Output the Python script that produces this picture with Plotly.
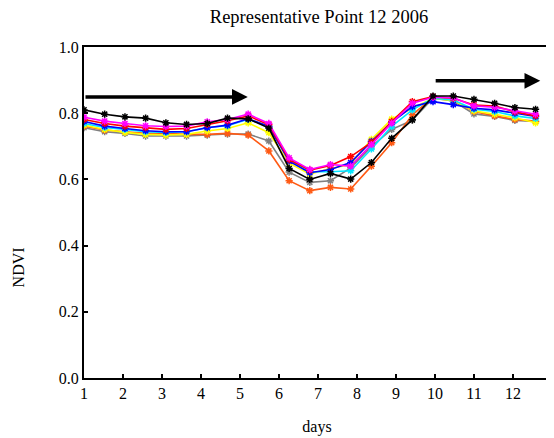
import plotly.graph_objects as go

title_text = "Representative Point 12 2006"
x_label = "days"
y_label = "NDVI"
x_days = [1.00, 1.53, 2.05, 2.58, 3.10, 3.63, 4.16, 4.68, 5.21, 5.74, 6.26, 6.79,
          7.32, 7.84, 8.37, 8.89, 9.42, 9.95, 10.47, 11.00, 11.53, 12.05, 12.58]

gray = [0.756, 0.744, 0.739, 0.731, 0.731, 0.731, 0.734, 0.737, 0.737, 0.716, 0.622, 0.591,
        0.596, 0.635, 0.699, 0.751, 0.779, 0.845, 0.837, 0.798, 0.790, 0.778, 0.775]
orange = [0.761, 0.749, 0.744, 0.739, 0.739, 0.736, 0.736, 0.739, 0.734, 0.686, 0.596, 0.566,
          0.576, 0.571, 0.640, 0.711, 0.795, 0.848, 0.840, 0.805, 0.792, 0.781, 0.776]
yellow = [0.764, 0.751, 0.742, 0.736, 0.734, 0.736, 0.746, 0.754, 0.771, 0.741, 0.649, 0.616,
          0.633, 0.645, 0.721, 0.782, 0.815, 0.845, 0.838, 0.807, 0.797, 0.786, 0.771]
cyan = [0.769, 0.757, 0.751, 0.744, 0.742, 0.744, 0.757, 0.762, 0.782, 0.760, 0.659, 0.623,
        0.623, 0.626, 0.692, 0.760, 0.810, 0.845, 0.840, 0.812, 0.805, 0.792, 0.784]
blue = [0.775, 0.761, 0.754, 0.747, 0.744, 0.744, 0.756, 0.764, 0.783, 0.760, 0.655, 0.620,
        0.630, 0.651, 0.715, 0.772, 0.820, 0.835, 0.826, 0.815, 0.810, 0.800, 0.790]
red = [0.781, 0.769, 0.761, 0.756, 0.751, 0.754, 0.766, 0.777, 0.792, 0.765, 0.660, 0.628,
       0.642, 0.669, 0.712, 0.775, 0.835, 0.850, 0.845, 0.825, 0.822, 0.804, 0.792]
magenta = [0.788, 0.776, 0.769, 0.762, 0.760, 0.761, 0.774, 0.781, 0.797, 0.769, 0.665, 0.630,
           0.645, 0.640, 0.705, 0.770, 0.830, 0.848, 0.847, 0.822, 0.818, 0.807, 0.797]
black = [0.810, 0.797, 0.789, 0.785, 0.771, 0.766, 0.769, 0.785, 0.783, 0.755, 0.633, 0.600,
         0.618, 0.601, 0.651, 0.724, 0.780, 0.852, 0.852, 0.842, 0.830, 0.817, 0.812]

series = [
    ("gray", gray, "#808080"),
    ("orange", orange, "#ff5a14"),
    ("yellow", yellow, "#ffff00"),
    ("cyan", cyan, "#00e5ff"),
    ("blue", blue, "#0000ff"),
    ("red", red, "#ff0000"),
    ("magenta", magenta, "#ff00ff"),
    ("black", black, "#000000"),
]

# arrows: (x_start, x_end, y)
arrows = [(1.0, 5.2, 0.849), (9.98, 12.7, 0.898)]

x_ticks = list(range(1, 13))
y_ticks = [0.0, 0.2, 0.4, 0.6, 0.8, 1.0]

FONT = '"Liberation Serif", "Times New Roman", Times, serif'

fig = go.Figure()
for name, vals, col in series:
    fig.add_trace(go.Scatter(
        x=x_days, y=vals, mode="lines+markers", name=name,
        line=dict(color=col, width=1.6),
        marker=dict(symbol="asterisk-open", size=6, color=col, line=dict(color=col, width=1.5)),
        showlegend=False,
    ))

for x0, x1, yv in arrows:
    fig.add_annotation(
        x=x1, y=yv, ax=x0, ay=yv, xref="x", yref="y", axref="x", ayref="y",
        showarrow=True, arrowhead=2, arrowsize=0.9, arrowwidth=3.5, arrowcolor="black",
        text="",
    )

# y-axis label placed like the original (below the middle of the axis)
fig.add_annotation(
    text=y_label, xref="paper", yref="paper", x=(18 - 84) / 468, y=0.335,
    showarrow=False, textangle=-90, xanchor="center", yanchor="middle",
    font=dict(family=FONT, size=16, color="black"),
)

# page body has an 8px margin, so the figure is 8px smaller and offset
fig.update_layout(
    width=546, height=430,
    margin=dict(l=76, r=2, t=39, b=60),
    paper_bgcolor="white", plot_bgcolor="white",
    title=dict(text=title_text, x=(319 - 8) / 546, xanchor="center",
               y=1 - 9 / 430, yanchor="middle",
               font=dict(family=FONT, size=18.5, color="black")),
    font=dict(family=FONT, size=16, color="black"),
)
fig.update_xaxes(
    range=[1, 12.95], tickvals=x_ticks, ticktext=[str(t) for t in x_ticks],
    ticks="inside", ticklen=4, tickwidth=1.5, tickcolor="black",
    showline=True, linecolor="black", linewidth=2, mirror=True,
    showgrid=False, zeroline=False,
    title=dict(text=x_label, font=dict(family=FONT, size=16), standoff=20),
    tickfont=dict(family=FONT, size=16),
)
fig.update_yaxes(
    range=[0, 1], tickvals=y_ticks, ticktext=[f"{t:.1f}" for t in y_ticks],
    ticks="inside", ticklen=4, tickwidth=1.5, tickcolor="black",
    showline=True, linecolor="black", linewidth=2, mirror="ticks",
    showgrid=False, zeroline=False,
    tickfont=dict(family=FONT, size=16),
)

fig.write_html("out.html")
